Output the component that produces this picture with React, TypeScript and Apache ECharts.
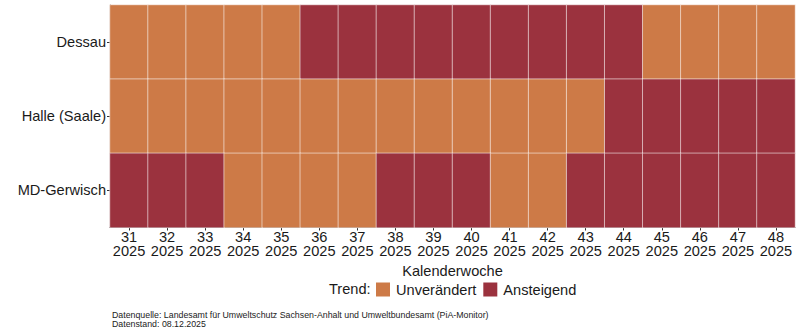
import React, { useEffect, useRef } from "react";
import * as echarts from "echarts";

const weeks = ["31", "32", "33", "34", "35", "36", "37", "38", "39", "40", "41", "42", "43", "44", "45", "46", "47", "48"];
const year = "2025";
const stations = ["Dessau", "Halle (Saale)", "MD-Gerwisch"];
const trendNames = ["Unverändert", "Ansteigend"];
const trendColors = ["#CD7A47", "#9B323E"];
// 0 = Unverändert, 1 = Ansteigend
const dessau = [0, 0, 0, 0, 0, 1, 1, 1, 1, 1, 1, 1, 1, 1, 0, 0, 0, 0];
const halle = [0, 0, 0, 0, 0, 0, 0, 0, 0, 0, 0, 0, 0, 1, 1, 1, 1, 1];
const gerwisch = [1, 1, 1, 0, 0, 0, 0, 1, 1, 1, 0, 0, 1, 1, 1, 1, 1, 1];
const trendRows = [dessau, halle, gerwisch];

const FONT = "'Liberation Sans', Arial, sans-serif";
const FS = 14.6;

export default function App() {
  const ref = useRef<HTMLDivElement>(null);
  useEffect(() => {
    if (!ref.current) return;
    const chart = echarts.init(ref.current, null, { renderer: "svg" });
    const data: any[] = [];
    trendRows.forEach((row, si) => {
      row.forEach((v, wi) => {
        data.push([wi, si, v]);
      });
    });
    chart.setOption({
      animation: false,
      backgroundColor: "#ffffff",
      textStyle: { fontFamily: FONT },
      grid: { left: 110, right: 5, top: 5, bottom: 106.5, containLabel: false },
      xAxis: {
        type: "category",
        data: weeks.map((w) => w + "\n" + year),
        name: "Kalenderwoche",
        nameLocation: "middle",
        nameGap: 35,
        nameTextStyle: { fontSize: FS, color: "#1a1a1a", fontFamily: FONT },
        axisLine: { show: true, lineStyle: { color: "#333333", width: 1.2 } },
        axisTick: { show: true, alignWithLabel: true, length: 3, lineStyle: { color: "#333333" } },
        axisLabel: { fontSize: FS, color: "#1a1a1a", lineHeight: 14.5, margin: 2, fontFamily: FONT, interval: 0 },
        splitLine: { show: false },
      },
      yAxis: {
        type: "category",
        data: stations,
        inverse: true,
        axisLine: { show: true, lineStyle: { color: "#333333", width: 1.2 } },
        axisTick: { show: true, alignWithLabel: true, length: 3, lineStyle: { color: "#333333" } },
        axisLabel: { fontSize: FS, color: "#1a1a1a", margin: 4, fontFamily: FONT },
        splitLine: { show: false },
      },
      visualMap: {
        type: "piecewise",
        dimension: 2,
        orient: "horizontal",
        left: 376,
        top: 282,
        padding: 0,
        itemWidth: 14,
        itemHeight: 14,
        itemGap: 7,
        textGap: 6,
        itemSymbol: "rect",
        selectedMode: false,
        showLabel: true,
        pieces: trendNames.map((name, i) => ({ value: i, label: name, color: trendColors[i] })),
        textStyle: { fontSize: FS, color: "#1a1a1a", fontFamily: FONT },
      },
      graphic: [
        {
          type: "text",
          left: 329,
          top: 281.5,
          style: { text: "Trend:", fontSize: FS, fill: "#1a1a1a", fontFamily: FONT },
        },
        {
          type: "text",
          left: 112,
          top: 310,
          style: {
            text: "Datenquelle: Landesamt für Umweltschutz Sachsen-Anhalt und Umweltbundesamt (PiA-Monitor)\nDatenstand: 08.12.2025",
            fontSize: 8.8,
            lineHeight: 9.5,
            fill: "#222222",
            fontFamily: FONT,
          },
        },
      ],
      series: [
        {
          type: "heatmap",
          name: "Trend",
          data,
          itemStyle: {
            borderColor: "rgba(255,255,255,0.55)",
            borderWidth: 1,
          },
          emphasis: { disabled: true },
        },
      ],
    });
    return () => chart.dispose();
  }, []);
  return <div ref={ref} style={{ width: 800, height: 334, position: "absolute", left: 0, top: 0 }} />;
}
